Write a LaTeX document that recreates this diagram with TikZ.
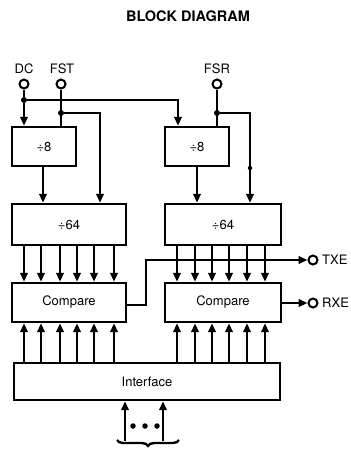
\documentclass[tikz,border=0pt]{standalone}
\usepackage{fontspec}
\setmainfont{TeX Gyre Heros}
\usetikzlibrary{arrows.meta,decorations.pathreplacing}
\tikzset{
  blk/.style={draw, line width=2.4pt, inner sep=0pt, font=\fontsize{13}{15}\selectfont},
  wire/.style={line width=2.4pt},
  arr/.style={wire, -{Triangle[length=9pt,width=7.5pt]}},
  pin/.style={circle, draw, line width=2pt, minimum size=9pt, inner sep=0pt},
  lbl/.style={font=\fontsize{13}{15}\selectfont, inner sep=0pt},
  jdot/.style={circle, fill, minimum size=6pt, inner sep=0pt},
}
\begin{document}
\begin{tikzpicture}[x=1pt,y=-1pt]
\useasboundingbox (0,0) rectangle (351,451);
\node[font=\fontsize{14.5}{16}\selectfont\bfseries] (title) at (188,16) {BLOCK DIAGRAM};

% boxes
\node[blk, minimum width=64pt, minimum height=39pt] (d8a) at (44,146.5) {÷8};
\node[blk, minimum width=64pt, minimum height=39pt] (d8b) at (197,146.5) {÷8};
\node[blk, minimum width=114pt, minimum height=41pt] (d64a) at (69,224.5) {÷64};
\node[blk, minimum width=116pt, minimum height=41pt] (d64b) at (223,224.5) {÷64};
\node[blk, minimum width=114pt, minimum height=39pt] (cmpa) at (69,302.5) {Compare};
\node[blk, minimum width=116pt, minimum height=39pt] (cmpb) at (223,302.5) {Compare};
\node[blk, minimum width=266pt, minimum height=37pt] (intf) at (147,381.5) {Interface};

% input pins
\node[pin] (dc) at (24,84) {};
\node[pin] (fst) at (61,84) {};
\node[pin] (fsr) at (217,84) {};
\node[lbl] (dcl) at (24,69) {DC};
\node[lbl] (fstl) at (62,69) {FST};
\node[lbl] (fsrl) at (217,69) {FSR};

% junctions
\node[jdot] (jdc) at (24,100) {};
\node[jdot] (jfst) at (61,113) {};
\node[jdot] (jfsr) at (217,113) {};
\node[jdot, minimum size=4.5pt] (jfsr2) at (250,168) {};

% DC
\draw[wire] (dc) -- (jdc);
\draw[arr] (jdc) -- (jdc |- d8a.north);
\draw[arr] (jdc) -- (178,100) -- (178,0 |- d8b.north);
% FST
\draw[wire] (fst) -- (fst |- d8a.north);
\draw[arr] (jfst) -- (100,113) -- (100,0 |- d64a.north);
% FSR
\draw[wire] (fsr) -- (fsr |- d8b.north);
\draw[arr] (jfsr) -- (250,113) -- (250,0 |- d64b.north);

% /8 -> /64
\draw[arr] (43,0 |- d8a.south) -- (43,0 |- d64a.north);
\draw[arr] (197,0 |- d8b.south) -- (197,0 |- d64b.north);

% /64 -> compare, interface -> compare
\foreach \x in {24,41,60,77,94,114}{
  \draw[arr] (\x,0 |- d64a.south) -- (\x,0 |- cmpa.north);
  \draw[arr] (\x,0 |- intf.north) -- (\x,0 |- cmpa.south);
}
\foreach \x in {177,195,212,229,247,265}{
  \draw[arr] (\x,0 |- d64b.south) -- (\x,0 |- cmpb.north);
  \draw[arr] (\x,0 |- intf.north) -- (\x,0 |- cmpb.south);
}

% outputs
\node[pin] (txe) at (313,260) {};
\node[pin] (rxe) at (313,303) {};
\node[lbl, anchor=west] (txel) at (322,260) {TXE};
\node[lbl, anchor=west] (rxel) at (322,303) {RXE};
\draw[arr] (cmpa.east |- 0,305) -- (146,305) -- (146,260) -- (txe.west);
\draw[arr] (cmpb.east |- 0,303) -- (rxe.west);

% bus input
\coordinate (b1) at (125,441);
\coordinate (b2) at (163,441);
\draw[arr] (b1) -- (b1 |- intf.south);
\draw[arr] (b2) -- (b2 |- intf.south);
\foreach \x/\n in {133/da,145/db,157/dc2}{\node[jdot, minimum size=5.5pt] (\n) at (\x,426) {};}
\coordinate (brl) at (117,440);
\coordinate (brr) at (179,440);
\draw[wire, decorate, decoration={brace, mirror, amplitude=6pt}] (brl) -- (brr);
\end{tikzpicture}
\end{document}
